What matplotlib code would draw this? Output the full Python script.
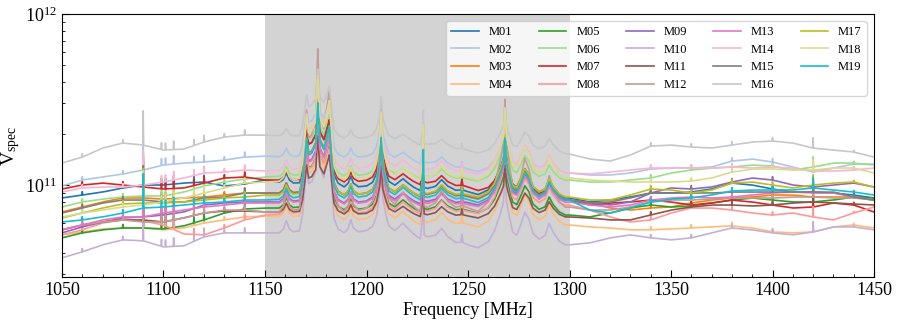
import numpy as np
import matplotlib
matplotlib.use("Agg")
import matplotlib.pyplot as plt

plt.rcParams["font.family"] = ["Liberation Serif", "DejaVu Serif"]
plt.rcParams["mathtext.fontset"] = "custom"
plt.rcParams["mathtext.rm"] = "Liberation Serif"
plt.rcParams["mathtext.it"] = "Liberation Serif:italic"

# ---------- data (values in units of 1e10) ----------
knots = np.arange(1050, 1451, 10)  # MHz

base = {
    "M01": [8.40, 8.74, 9.10, 9.61, 10.0, 10.0, 10.27, 10.41, 9.87, 10.14, 10.70,
            10.27, 10.0, 9.87, 9.74, 9.61, 9.48, 9.35, 9.23, 9.10, 8.86, 8.74, 8.63, 8.51, 8.51,
            8.40, 7.96, 8.17, 8.51, 8.98, 8.98, 9.10, 9.48, 10.27, 10.0, 9.48, 9.10, 9.10, 8.98, 8.74, 8.40],
    "M02": [9.87, 10.70, 11.14, 11.60, 12.24, 13.09, 13.44, 13.63, 14.00, 14.57, 14.77,
            14.57, 14.57, 14.57, 14.57, 14.38, 14.00, 13.63, 13.09, 12.57, 12.07, 11.91, 11.91, 11.91, 11.91,
            11.75, 11.44, 11.44, 11.75, 12.40, 12.57, 12.57, 12.74, 13.81, 14.19, 13.63, 12.74, 11.91, 12.57, 13.26, 13.26],
    "M03": [6.96, 7.44, 7.96, 8.40, 8.40, 8.28, 8.40, 8.51, 8.74, 8.98, 8.98,
            8.98, 8.86, 8.86, 8.74, 8.74, 8.63, 8.63, 8.51, 8.51, 8.40, 8.40, 8.28, 8.28, 8.17,
            8.17, 7.85, 7.34, 7.14, 7.34, 7.44, 7.85, 8.17, 8.40, 8.51, 8.74, 8.74, 8.51, 8.51, 8.51, 8.17],
    "M04": [5.11, 5.32, 5.54, 5.61, 5.61, 5.47, 5.61, 6.00, 6.25, 6.51, 6.59,
            6.51, 6.42, 6.33, 6.25, 6.17, 6.08, 5.92, 5.84, 5.77, 5.69, 5.69, 5.77, 5.77, 5.84,
            5.84, 5.69, 5.61, 5.47, 5.47, 5.54, 5.61, 5.69, 5.77, 5.61, 5.32, 5.25, 5.32, 5.69, 5.84, 5.61],
    "M05": [4.91, 5.25, 5.47, 5.61, 5.61, 5.54, 5.77, 6.25, 6.86, 7.24, 7.34,
            7.34, 7.24, 7.24, 7.14, 7.14, 7.05, 7.05, 6.96, 6.96, 6.86, 6.86, 6.77, 6.77, 6.68,
            6.68, 6.51, 6.86, 7.34, 7.64, 7.44, 7.54, 7.85, 8.17, 8.40, 8.17, 7.96, 7.96, 8.17, 8.51, 8.40],
    "M06": [7.44, 7.96, 8.28, 8.51, 8.63, 8.63, 9.10, 9.87, 10.41, 10.84, 11.14,
            11.29, 11.29, 11.29, 11.29, 11.29, 11.14, 10.99, 10.84, 10.70, 10.55, 10.55, 10.55, 10.55, 10.55,
            10.70, 10.41, 10.41, 10.70, 10.99, 11.75, 12.24, 12.57, 12.74, 13.09, 12.91, 12.24, 12.74, 13.44, 13.44, 13.09],
    "M07": [9.48, 10.0, 10.27, 10.0, 9.74, 9.48, 9.61, 10.27, 10.99, 11.14, 10.70,
            10.70, 10.55, 10.55, 10.41, 10.41, 10.27, 10.14, 10.0, 9.74, 9.48, 9.10, 8.74, 8.51, 8.28,
            8.17, 7.64, 7.85, 7.96, 8.17, 7.96, 7.64, 7.85, 8.17, 7.96, 7.64, 7.34, 7.44, 7.85, 7.64, 6.96],
    "M08": [5.11, 5.47, 6.00, 6.25, 6.17, 5.84, 5.18, 5.11, 5.61, 6.25, 6.68,
            6.77, 6.77, 6.77, 6.77, 6.77, 6.77, 6.77, 6.77, 6.77, 6.77, 6.86, 7.05, 7.24, 7.44,
            7.64, 7.14, 6.51, 6.08, 6.25, 6.86, 7.34, 7.34, 7.14, 6.86, 6.68, 6.86, 6.51, 6.25, 6.86, 7.44],
    "M09": [5.25, 5.69, 6.08, 6.42, 6.51, 6.68, 6.96, 7.64, 7.85, 7.96, 7.96,
            7.96, 7.96, 7.85, 7.85, 7.85, 7.85, 7.75, 7.75, 7.64, 7.64, 7.64, 7.75, 7.85, 7.96,
            8.17, 7.85, 7.64, 7.96, 8.98, 9.61, 9.48, 9.74, 10.41, 10.99, 10.70, 10.0, 9.74, 10.0, 10.27, 9.74],
    "M10": [3.75, 4.07, 4.47, 4.78, 4.72, 4.35, 4.41, 4.98, 5.25, 5.25, 5.25,
            5.25, 5.25, 5.25, 5.25, 5.25, 5.11, 4.98, 4.78, 4.53, 4.30, 4.30, 4.35, 4.41, 4.47,
            4.47, 4.59, 4.91, 5.11, 4.91, 4.78, 4.91, 5.25, 5.61, 5.47, 5.25, 5.11, 5.32, 5.69, 5.69, 5.47],
    "M11": [5.47, 5.84, 6.08, 6.25, 6.25, 6.08, 6.42, 6.86, 7.05, 7.05, 6.96,
            6.96, 6.86, 6.86, 6.77, 6.68, 6.68, 6.59, 6.51, 6.51, 6.42, 6.42, 6.42, 6.51, 6.51,
            6.51, 6.42, 6.25, 6.25, 6.68, 7.14, 7.44, 7.64, 7.64, 7.54, 7.64, 7.85, 7.96, 7.85, 7.75, 7.64],
    "M12": [5.47, 5.84, 6.08, 6.25, 6.08, 6.08, 6.42, 6.86, 7.14, 7.14, 6.96,
            6.96, 6.96, 6.96, 6.96, 6.96, 6.96, 6.96, 6.96, 6.96, 6.96, 7.05, 7.14, 7.24, 7.34,
            7.44, 7.14, 7.14, 7.44, 7.96, 8.17, 8.17, 8.28, 8.40, 8.40, 8.40, 8.51, 8.51, 8.40, 8.40, 8.17],
    "M13": [5.47, 5.84, 6.25, 6.51, 6.51, 6.86, 7.14, 7.44, 7.64, 7.85, 7.85,
            7.85, 7.85, 7.75, 7.75, 7.75, 7.64, 7.64, 7.54, 7.54, 7.44, 7.54, 7.64, 7.75, 7.85,
            7.96, 7.64, 7.44, 7.64, 8.17, 8.40, 8.51, 8.40, 8.51, 8.74, 8.98, 9.10, 8.98, 8.98, 8.51, 8.17],
    "M14": [9.10, 9.61, 9.74, 9.74, 10.0, 10.41, 10.99, 11.75, 11.91, 12.24, 12.07,
            12.24, 12.24, 12.40, 12.40, 12.40, 12.24, 12.07, 11.91, 11.75, 11.60, 11.60, 11.60, 11.75, 11.75,
            11.75, 11.60, 11.91, 12.24, 12.57, 12.57, 12.57, 12.57, 12.74, 12.57, 12.74, 12.57, 12.07, 12.07, 12.24, 12.57],
    "M15": [6.86, 7.34, 7.85, 8.17, 8.17, 7.96, 7.96, 8.40, 8.51, 8.98, 8.98,
            8.98, 8.86, 8.86, 8.74, 8.74, 8.63, 8.63, 8.51, 8.40, 8.28, 8.28, 8.17, 8.17, 8.17,
            8.17, 7.85, 7.96, 8.40, 8.98, 8.98, 8.98, 8.98, 9.10, 9.10, 9.10, 9.10, 9.10, 9.10, 8.51, 8.17],
    "M16": [13.44, 14.57, 16.45, 17.60, 17.13, 16.02, 16.23, 17.84, 19.08, 19.60, 19.60,
            19.34, 19.08, 19.08, 18.83, 18.57, 18.08, 17.60, 16.90, 16.23, 15.59, 15.18, 15.18, 15.38, 15.59,
            15.18, 14.19, 13.81, 14.97, 16.90, 17.13, 16.68, 16.45, 17.13, 17.84, 18.08, 17.60, 16.45, 16.02, 15.59, 14.57],
    "M17": [6.42, 6.86, 7.34, 7.75, 7.85, 7.85, 7.96, 8.17, 8.40, 8.51, 8.74,
            8.74, 8.74, 8.74, 8.74, 8.74, 8.63, 8.63, 8.63, 8.51, 8.51, 8.51, 8.51, 8.51, 8.51,
            8.51, 8.17, 8.17, 8.74, 9.48, 9.35, 8.98, 9.35, 10.27, 10.41, 10.0, 9.61, 10.0, 10.27, 10.41, 9.74],
    "M18": [6.51, 6.86, 7.14, 7.44, 7.64, 7.96, 8.40, 8.98, 9.61, 10.27, 10.41,
            10.55, 10.70, 10.70, 10.70, 10.70, 10.70, 10.70, 10.70, 10.70, 10.70, 10.70, 10.84, 10.84, 10.99,
            10.99, 10.70, 10.55, 10.41, 10.41, 10.41, 10.55, 10.99, 11.91, 12.40, 12.40, 12.24, 12.24, 12.57, 12.57, 11.75],
    "M19": [6.08, 6.25, 6.51, 6.86, 7.34, 7.44, 7.64, 7.85, 7.96, 8.17, 8.17,
            8.28, 8.40, 8.40, 8.40, 8.40, 8.28, 8.28, 8.17, 8.06, 7.96, 7.85, 7.85, 7.96, 8.06,
            8.17, 7.14, 6.86, 7.34, 7.96, 8.28, 8.40, 8.74, 9.23, 9.35, 9.35, 9.35, 9.61, 9.35, 9.10, 8.74],
}

# strength of the in-band RFI features per receiver
rfi_gain = [1.0, 0.85, 1.0, 1.1, 1.0, 0.9, 0.9, 1.1, 1.0, 1.2,
            0.85, 1.8, 1.0, 1.0, 1.0, 0.75, 1.0, 1.15, 1.05]

# shared spectral features inside the RFI band (log10 excess over baseline)
feat_freq = [1150, 1157, 1159, 1160.5, 1162, 1164, 1167, 1168.5, 1169.5, 1170.5,
             1171.5, 1173, 1175, 1176, 1177, 1179, 1181, 1181.7, 1182.5, 1184,
             1186, 1189, 1191, 1192.3, 1193.5, 1196, 1200, 1203, 1205, 1206.5,
             1207.2, 1208, 1209.5, 1211, 1214, 1216, 1218, 1220, 1223, 1226.5,
             1227.6, 1228, 1228.4, 1230, 1234, 1237, 1240, 1244, 1246.5, 1247,
             1247.5, 1255, 1260, 1263, 1266, 1267.5, 1268.2, 1269, 1270, 1272,
             1274, 1276, 1278, 1280, 1282, 1285, 1288, 1290, 1292, 1295, 1298, 1300]
feat_dex = [0.0, 0.0, 0.018, 0.06, 0.02, 0.005, 0.01, 0.09, 0.2, 0.33,
            0.24, 0.25, 0.30, 0.53, 0.32, 0.27, 0.36, 0.40, 0.27, 0.07,
            0.02, 0.0, 0.023, 0.065, 0.025, 0.005, 0.012, 0.035, 0.09, 0.2,
            0.34, 0.18, 0.1, 0.045, 0.025, 0.045, 0.065, 0.045, 0.02, 0.0,
            0.1, 0.28, 0.02, 0.015, 0.03, 0.07, 0.035, 0.015, 0.02, 0.06,
            0.02, 0.0, 0.03, 0.08, 0.165, 0.22, 0.36, 0.22, 0.165, 0.07,
            0.055, 0.105, 0.165, 0.13, 0.06, 0.03, 0.047, 0.105, 0.06, 0.018, 0.0, 0.0]

# narrow RFI lines
spike_freq = [1060, 1080, 1090, 1099, 1101, 1105, 1115, 1120, 1130, 1140,
              1340, 1360, 1380, 1400, 1420, 1440]
spike_dex = [0.02, 0.02, 0.2, 0.04, 0.04, 0.05, 0.035, 0.04, 0.02, 0.03,
             0.02, 0.02, 0.02, 0.02, 0.06, 0.01]

names = list(base.keys())
colors = plt.cm.tab20.colors

# ---------- plot ----------
grid = np.unique(np.concatenate([np.arange(1050, 1450.01, 0.2), feat_freq, spike_freq]))
feat = np.interp(grid, feat_freq, feat_dex, left=0, right=0)
spk = np.zeros_like(grid)
for f, h in zip(spike_freq, spike_dex):
    spk = np.maximum(spk, np.interp(grid, [f - 0.2, f, f + 0.2], [0, h, 0], left=0, right=0))

fig, ax = plt.subplots(figsize=(8.97, 3.22), dpi=100)
fig.subplots_adjust(left=0.0691, right=0.9744, top=0.9565, bottom=0.1398)

ax.axvspan(1150, 1300, color="lightgray", zorder=0, lw=0)

for i, name in enumerate(names):
    logb = np.interp(grid, knots, np.log10(np.array(base[name]) * 1e10))
    y = 10 ** (logb + rfi_gain[i] * feat + spk)
    ax.plot(grid, y, color=colors[i], lw=1.2, label=name)

ax.set_yscale("log")
ax.set_xlim(1050, 1450)
ax.set_ylim(2.9e10, 1e12)
ax.set_xticks(np.arange(1050, 1451, 50))
ax.set_xticks(np.arange(1050, 1451, 10), minor=True)
ax.tick_params(which="both", direction="in", labelsize=13)
ax.tick_params(which="major", length=5)
ax.tick_params(which="minor", length=2.5)
ax.set_xlabel("Frequency [MHz]", fontsize=13, labelpad=2)
ax.set_ylabel(r"V$_{\rm spec}$", fontsize=14, labelpad=2)

ax.legend(ncol=5, loc="upper right", fontsize=9, handlelength=2.2,
          columnspacing=2.1, labelspacing=0.45, framealpha=0.8,
          borderpad=0.4, borderaxespad=0, bbox_to_anchor=(0.991, 0.973))

fig.savefig("out.png", dpi=100)
